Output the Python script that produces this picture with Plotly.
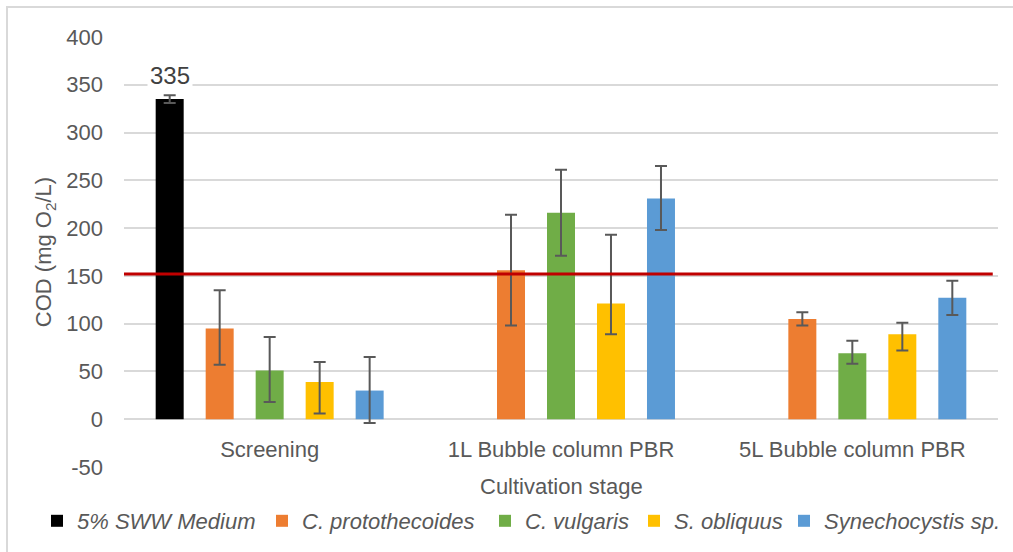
import plotly.graph_objects as go

# Cultivation stages on the category axis
stages = ["Screening", "1L Bubble column PBR", "5L Bubble column PBR"]

# Mean COD (mg O2/L) per series and stage
medium_cod = [335, None, None]
proto_cod = [95, 156, 105]
vulgaris_cod = [51, 216, 69]
obliquus_cod = [39, 121, 89]
synecho_cod = [30, 231, 127]

# Error bar extents (upper / lower)
medium_err_up = [4, None, None]
medium_err_dn = [4, None, None]
proto_err_up = [40, 58, 7]
proto_err_dn = [38, 58, 7]
vulgaris_err_up = [35, 45, 13]
vulgaris_err_dn = [33, 45, 11]
obliquus_err_up = [21, 72, 12]
obliquus_err_dn = [33, 32, 17]
synecho_err_up = [35, 34, 18]
synecho_err_dn = [34, 33, 18]

# Discharge limit line
cod_limit = 152

# y-axis ticks
y_tick_vals = [-50, 0, 50, 100, 150, 200, 250, 300, 350, 400]
y_tick_text = ["-50", "0", "50", "100", "150", "200", "250", "300", "350", "400"]

series = [
    ("5% SWW Medium", medium_cod, medium_err_up, medium_err_dn, "#000000"),
    ("C. protothecoides", proto_cod, proto_err_up, proto_err_dn, "#ED7D31"),
    ("C. vulgaris", vulgaris_cod, vulgaris_err_up, vulgaris_err_dn, "#70AD47"),
    ("S. obliquus", obliquus_cod, obliquus_err_up, obliquus_err_dn, "#FFC000"),
    ("Synechocystis sp.", synecho_cod, synecho_err_up, synecho_err_dn, "#5B9BD5"),
]

# left edge (px) of each legend entry's text along the bottom row
legend_text_left = [75, 300, 523, 672, 822]

FONT = "Liberation Sans, Arial, sans-serif"
GREY_TEXT = "#595959"
GRID = "#D9D9D9"
FS = 22

W, H = 1013, 552
ML, MR, MT, MB = 124, 15, 37, 85
Y_MIN, Y_MAX = -50, 400
BARGAP = 0.142
BARGROUPGAP = 0.44
LEGEND_ROW_Y = 521

plot_w = W - ML - MR
plot_h = H - MT - MB


def px_to_paper_x(px):
    return (px - ML) / plot_w


def px_to_paper_y(py):
    return (H - MB - py) / plot_h


fig = go.Figure()
legend_layouts = {}
for i, (name, vals, up, dn, col) in enumerate(series):
    lg = "legend" if i == 0 else f"legend{i + 1}"
    fig.add_trace(go.Bar(
        name=name, x=stages, y=vals, legend=lg,
        marker=dict(color=col, line=dict(width=0)),
        error_y=dict(type="data", symmetric=False, array=up, arrayminus=dn,
                     color="#595959", thickness=2, width=6),
    ))
    legend_layouts[lg] = dict(
        orientation="h", xref="container", yref="container",
        x=(legend_text_left[i] - 38) / W, xanchor="left",
        y=(H - LEGEND_ROW_Y) / H, yanchor="middle",
        bgcolor="rgba(0,0,0,0)", borderwidth=0,
        font=dict(family=FONT, size=FS, color=GREY_TEXT, style="italic"),
        itemclick=False, itemdoubleclick=False,
    )

# value label over the medium bar (first slot of the first group)
slot_w = plot_w / len(stages) * (1 - BARGAP) / len(series)
fig.add_annotation(
    x=stages[0], y=medium_cod[0], xref="x", yref="y",
    text=str(medium_cod[0]), showarrow=False,
    xshift=-2 * slot_w, yshift=24, yanchor="middle",
    bgcolor="white", borderpad=2,
    font=dict(family=FONT, size=24, color="#404040"),
)

# limit line
fig.add_shape(type="line", xref="paper", yref="y", x0=0, x1=0.994,
              y0=cod_limit, y1=cod_limit, layer="above",
              line=dict(color="#C00000", width=3))

# chart area border
fig.add_shape(type="rect", xref="paper", yref="paper",
              x0=px_to_paper_x(7), x1=px_to_paper_x(W + 10),
              y0=px_to_paper_y(H + 10), y1=px_to_paper_y(7),
              line=dict(color=GRID, width=2), layer="below")

# x-axis title
fig.add_annotation(
    x=0.5, y=px_to_paper_y(486), xref="paper", yref="paper",
    text="Cultivation stage", showarrow=False, yanchor="middle",
    font=dict(family=FONT, size=FS, color=GREY_TEXT),
)

fig.update_layout(
    width=W, height=H,
    margin=dict(l=ML, r=MR, t=MT, b=MB, autoexpand=False),
    paper_bgcolor="white", plot_bgcolor="white",
    barmode="group", bargap=BARGAP, bargroupgap=BARGROUPGAP,
    font=dict(family=FONT, size=FS, color=GREY_TEXT),
    showlegend=True,
    xaxis=dict(
        anchor="free", position=(0 - Y_MIN) / (Y_MAX - Y_MIN),
        showline=False, showgrid=False, zeroline=False, ticks="",
        ticklabelstandoff=15,
        tickfont=dict(family=FONT, size=FS, color=GREY_TEXT),
    ),
    yaxis=dict(
        range=[Y_MIN, Y_MAX], tickmode="array",
        tickvals=y_tick_vals, ticktext=y_tick_text,
        showgrid=True, gridcolor=GRID, gridwidth=2,
        zeroline=False, showline=False, ticks="",
        ticklabelstandoff=20,
        tickfont=dict(family=FONT, size=FS, color=GREY_TEXT),
        title=dict(text="COD (mg O<sub>2</sub>/L)", standoff=8,
                   font=dict(family=FONT, size=FS, color=GREY_TEXT)),
    ),
    **legend_layouts,
)

fig.write_html("out.html")
